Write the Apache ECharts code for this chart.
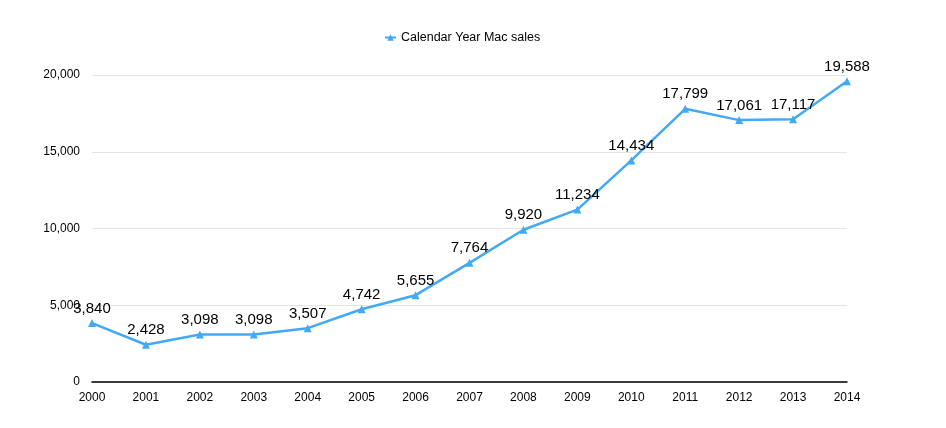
<!DOCTYPE html>
<html>
<head>
<meta charset="utf-8">
<script src="https://cdn.jsdelivr.net/npm/echarts@6/dist/echarts.min.js"></script>
<style>
  html, body { margin: 0; padding: 0; background: #fff; }
  #chart { width: 946px; height: 428px; }
</style>
</head>
<body>
<div id="chart"></div>
<script>
// Calendar-year Mac unit sales (thousands).
var years = ["2000", "2001", "2002", "2003", "2004", "2005", "2006", "2007",
  "2008", "2009", "2010", "2011", "2012", "2013", "2014"];
var macSales = [3840, 2428, 3098, 3098, 3507, 4742, 5655, 7764,
  9920, 11234, 14434, 17799, 17061, 17117, 19588];

var FONT = "Liberation Sans, Arial, Helvetica, sans-serif";
var BLUE = "#41a9f5";

var chart = echarts.init(document.getElementById("chart"));
chart.setOption({
  animation: false,
  textStyle: { fontFamily: FONT },
  legend: {
    top: 26,
    left: 379,
    itemWidth: 11,
    itemHeight: 8,
    itemGap: 6,
    textStyle: { fontFamily: FONT, fontSize: 12.5, color: "#000" },
    data: ["Calendar Year Mac sales"]
  },
  grid: { left: 92, right: 99, top: 75, bottom: 46, containLabel: false },
  xAxis: {
    type: "category",
    data: years,
    boundaryGap: false,
    axisLine: { lineStyle: { color: "#000", width: 1.5 } },
    axisTick: { show: false },
    axisLabel: { color: "#000", fontSize: 12, margin: 10, fontFamily: FONT }
  },
  yAxis: {
    type: "value",
    min: 0,
    max: 20000,
    interval: 5000,
    axisLine: { show: false },
    axisTick: { show: false },
    splitLine: { lineStyle: { color: "#e4e4e4", width: 1 } },
    axisLabel: {
      color: "#000", fontSize: 12, margin: 12, fontFamily: FONT,
      padding: [4, 0, 0, 0],
      formatter: function (v) { return v.toLocaleString("en-US"); }
    }
  },
  series: [{
    name: "Calendar Year Mac sales",
    type: "line",
    data: macSales,
    symbol: "triangle",
    symbolSize: 8,
    lineStyle: { color: BLUE, width: 2.5 },
    itemStyle: { color: BLUE },
    label: {
      show: true,
      position: "top",
      distance: 3,
      color: "#000",
      fontSize: 15,
      fontFamily: FONT,
      formatter: function (p) { return p.value.toLocaleString("en-US"); }
    }
  }]
});
</script>
</body>
</html>
